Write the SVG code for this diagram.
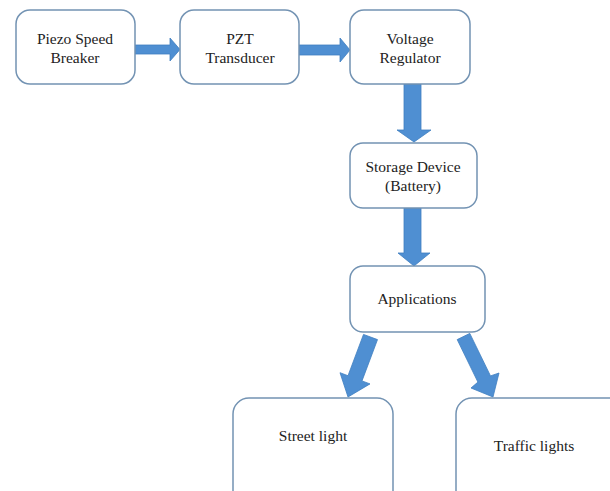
<svg xmlns="http://www.w3.org/2000/svg" width="610" height="491" viewBox="0 0 610 491">
<style>
.box{fill:#fff;stroke:#7393b3;stroke-width:1.5}
.arr{fill:#4f8fd2;stroke:#3f7fc0;stroke-width:0.8;stroke-linejoin:miter}
text{font-family:"Liberation Serif","DejaVu Serif",serif;font-size:15.5px;fill:#222;text-anchor:middle}
</style>
<rect width="610" height="491" fill="#fff"/>
<g id="connectors">
<polygon class="arr" points="135,45 170,45 170,38 180,49.5 170,61 170,54 135,54"/>
<polygon class="arr" points="299,45 340,45 340,38 350,50 340,62 340,55 299,55"/>
<polygon class="arr" points="404,84 421,84 421,130 431,130 414,142 397,130 404,130"/>
<polygon class="arr" points="404,208 421,208 421,253 430,253 414,266 398,253 404,253"/>
<polygon class="arr" points="363.5,334.4 377.5,339.6 362,380.9 370,383.9 348,397 340,372.7 348,375.7"/>
<polygon class="arr" points="457.2,339.6 469.8,333.4 490.5,375.9 499,373 493,397 471,388 477.9,382.1"/>
</g>
<g id="n1"><rect class="box" x="16" y="10" width="119" height="74" rx="14"/><text x="75" y="44">Piezo Speed</text><text x="75" y="63">Breaker</text></g>
<g id="n2"><rect class="box" x="180" y="10" width="119" height="74" rx="14"/><text x="240" y="44">PZT</text><text x="240" y="63">Transducer</text></g>
<g id="n3"><rect class="box" x="350" y="10" width="120" height="74" rx="14"/><text x="410" y="44">Voltage</text><text x="410" y="63">Regulator</text></g>
<g id="n4"><rect class="box" x="350" y="143" width="127" height="65" rx="13"/><text x="413" y="172">Storage Device</text><text x="413" y="191">(Battery)</text></g>
<g id="n5"><rect class="box" x="350" y="266" width="135" height="66" rx="13"/><text x="417" y="304">Applications</text></g>
<g id="n6"><rect class="box" x="233" y="398" width="160" height="110" rx="16"/><text x="313" y="441">Street light</text></g>
<g id="n7"><rect class="box" x="456" y="398" width="170" height="110" rx="16"/><text x="534" y="451">Traffic lights</text></g>
</svg>
